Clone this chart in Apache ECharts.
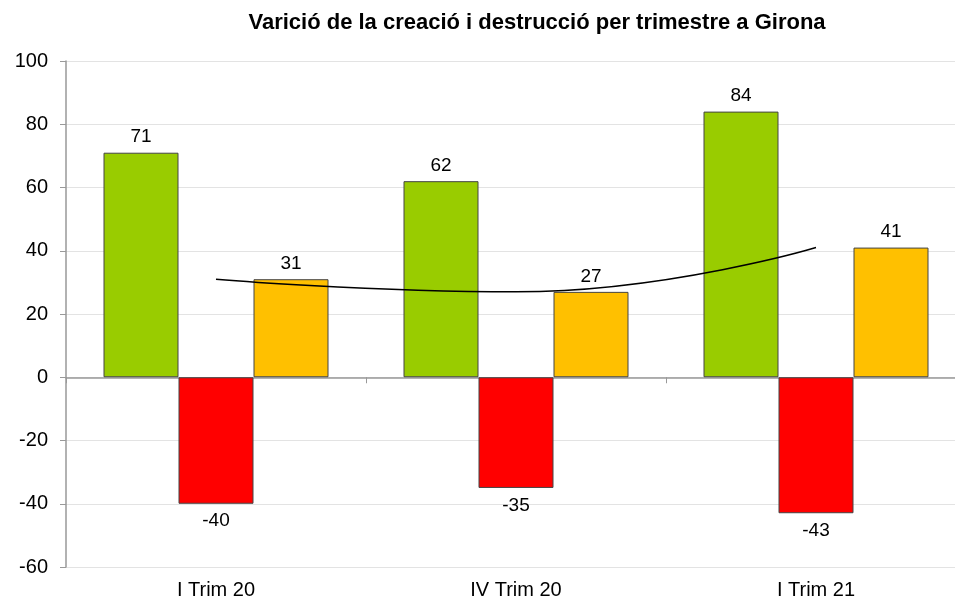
<!DOCTYPE html>
<html>
<head>
<meta charset="utf-8">
<script src="https://cdn.jsdelivr.net/npm/echarts@6/dist/echarts.min.js"></script>
<style>
  html, body { margin: 0; padding: 0; background: #fff; overflow: hidden; }
  #chart { width: 966px; height: 603px; }
</style>
</head>
<body>
<div id="chart"></div>
<script>
var categories = ['I Trim 20', 'IV Trim 20', 'I Trim 21']
var creacio = [71, 62, 84]
var destruccio = [-40, -35, -43]
var saldo = [31, 27, 41]
var yTicks = [-60, -40, -20, 0, 20, 40, 60, 80, 100]

var font = 'Liberation Sans, Arial, sans-serif'
// the plot runs a little past the right edge of the 955px window, as in the original
var myChart = echarts.init(document.getElementById('chart'))

var labelStyle = { show: true, color: '#000', fontFamily: font, fontSize: 19 }

var option = {
    animation: false,
    title: {
        text: 'Varició de la creació i destrucció per trimestre a Girona',
        left: 532,
        top: 7,
        textAlign: 'center',
        textStyle: { fontFamily: font, fontSize: 22, fontWeight: 'bold', color: '#000' }
    },
    grid: { left: 66, right: 0, top: 61, bottom: 36, containLabel: false },
    xAxis: {
        type: 'category',
        data: categories,
        axisLine: { onZero: true, lineStyle: { color: '#999', width: 1.5 } },
        axisTick: { show: true, inside: false, length: 6, lineStyle: { color: '#999' } },
        axisLabel: {
            color: '#000', fontFamily: font, fontSize: 20,
            margin: 13,
            verticalAlign: 'top'
        }
    },
    yAxis: {
        type: 'value',
        min: yTicks[0],
        max: yTicks[yTicks.length - 1],
        interval: 20,
        axisLine: { show: true, lineStyle: { color: '#999', width: 1.5 } },
        axisTick: { show: true, length: 6, lineStyle: { color: '#999' } },
        axisLabel: { color: '#000', fontFamily: font, fontSize: 20, margin: 18 },
        splitLine: { show: true, lineStyle: { color: '#e3e3e3' } }
    },
    series: [
        {
            name: 'Creació',
            type: 'bar',
            data: creacio,
            barGap: '0%',
            barCategoryGap: '25%',
            itemStyle: { color: '#99cc00', borderColor: '#444', borderWidth: 1 },
            label: Object.assign({ position: 'top', distance: 6 }, labelStyle)
        },
        {
            name: 'Destrucció',
            type: 'bar',
            data: destruccio,
            itemStyle: { color: '#ff0000', borderColor: '#444', borderWidth: 1 },
            label: Object.assign({ position: 'bottom', distance: 8 }, labelStyle)
        },
        {
            name: 'Saldo',
            type: 'bar',
            data: saldo,
            itemStyle: { color: '#ffc000', borderColor: '#444', borderWidth: 1 },
            label: Object.assign({ position: 'top', distance: 6 }, labelStyle)
        },
        {
            name: 'Tendència',
            type: 'line',
            data: saldo,
            smooth: true,
            symbol: 'none',
            z: 5,
            lineStyle: { color: '#000', width: 1.5 }
        }
    ]
}
myChart.setOption(option)
</script>
</body>
</html>
